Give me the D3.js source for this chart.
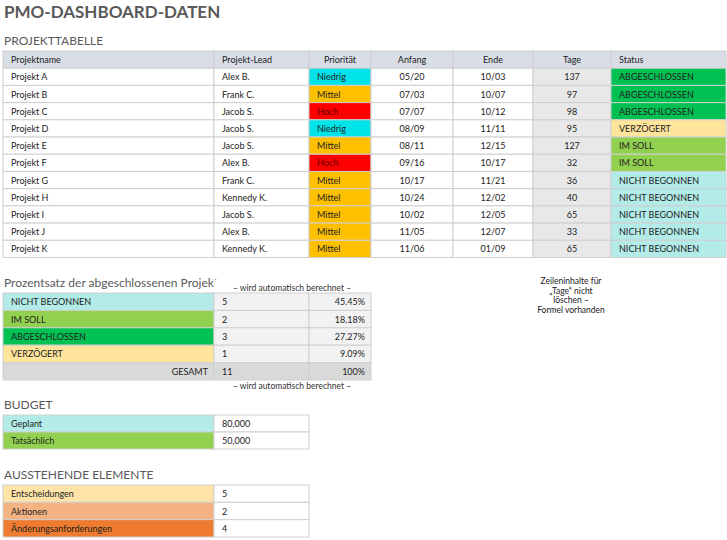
<!DOCTYPE html>
<html><head><meta charset="utf-8">
<script src="https://cdn.jsdelivr.net/npm/d3@7"></script>
<style>body{margin:0;background:#fff}svg{font-family:Lato,"Noto Sans",sans-serif}</style>
</head><body><div id="chart"></div>
<script>
const headers = ["Projektname","Projekt-Lead","Priorität","Anfang","Ende","Tage","Status"];
const projects = ["Projekt A","Projekt B","Projekt C","Projekt D","Projekt E","Projekt F","Projekt G","Projekt H","Projekt I","Projekt J","Projekt K"];
const leads = ["Alex B.","Frank C.","Jacob S.","Jacob S.","Jacob S.","Alex B.","Frank C.","Kennedy K.","Jacob S.","Alex B.","Kennedy K."];
const prio = ["Niedrig","Mittel","Hoch","Niedrig","Mittel","Hoch","Mittel","Mittel","Mittel","Mittel","Mittel"];
const start = ["05/20","07/03","07/07","08/09","08/11","09/16","10/17","10/24","10/02","11/05","11/06"];
const end = ["10/03","10/07","10/12","11/11","12/15","10/17","11/21","12/02","12/05","12/07","01/09"];
const days = [137,97,98,95,127,32,36,40,65,33,65];
const status = ["ABGESCHLOSSEN","ABGESCHLOSSEN","ABGESCHLOSSEN","VERZÖGERT","IM SOLL","IM SOLL","NICHT BEGONNEN","NICHT BEGONNEN","NICHT BEGONNEN","NICHT BEGONNEN","NICHT BEGONNEN"];
const pctLabels = ["NICHT BEGONNEN","IM SOLL","ABGESCHLOSSEN","VERZÖGERT"];
const pctCounts = [5,2,3,1];
const pctValues = ["45.45%","18.18%","27.27%","9.09%"];
const budgetLabels = ["Geplant","Tatsächlich"];
const budgetValues = ["80,000","50,000"];
const pendLabels = ["Entscheidungen","Aktionen","Änderungsanforderungen"];
const pendValues = [5,2,4];

const prioColor = {Niedrig:"#00e3e8",Mittel:"#ffc000",Hoch:"#ff0000"};
const statusColor = {"ABGESCHLOSSEN":"#00c152","VERZÖGERT":"#ffe59b","IM SOLL":"#92d050","NICHT BEGONNEN":"#b2ebe8"};
const pendColor = ["#ffe3a8","#f5b384","#ee7b30"];

const svg = d3.select("#chart").append("svg").attr("width",727).attr("height",540);
const colEdges = [3,214,309,371,453,533,611,726];
const line = "#cfcfcf";

function cell(x0,x1,y0,y1,fill,text,align,color){
  svg.append("rect").attr("x",x0).attr("y",y0).attr("width",x1-x0).attr("height",y1-y0)
    .attr("fill",fill).attr("stroke",line).attr("stroke-width",1);
  if(text===undefined) return;
  const tx = align==="middle"?(x0+x1)/2:align==="end"?x1-6:x0+8;
  svg.append("text").attr("x",tx).attr("y",(y0+y1)/2+3.5).attr("text-anchor",align||"start")
    .attr("font-size",9).attr("fill",color||"#222").text(text);
}
function title(y,t,size,weight,color){
  svg.append("text").attr("x",4).attr("y",y).attr("font-size",size).attr("font-weight",weight||"normal")
    .attr("fill",color||"#595959").text(t);
}

title(18,"PMO-DASHBOARD-DATEN",17,"bold");
title(45,"PROJEKTTABELLE",12);

const y = d3.scaleBand().domain(d3.range(12)).range([51,257.5]);
const aligns = ["start","start","middle","middle","middle","middle","start"];
headers.forEach((h,i)=>cell(colEdges[i],colEdges[i+1],y(0),y(0)+y.bandwidth(),"#d9dde6",h,i===0||i===1||i===6?"start":"middle"));
projects.forEach((p,r)=>{
  const y0=y(r+1), y1=y0+y.bandwidth();
  const vals=[p,leads[r],prio[r],start[r],end[r],days[r],status[r]];
  const fills=["#fff","#fff",prioColor[prio[r]],"#fff","#fff","#e8e8e8",statusColor[status[r]]];
  vals.forEach((v,i)=>cell(colEdges[i],colEdges[i+1],y0,y1,fills[i],v,i===2?"start":aligns[i],i===2&&prio[r]==="Hoch"?"#5a0000":"#222"));
});

title(287,"Prozentsatz der abgeschlossenen Projekte",12);
svg.append("rect").attr("x",214).attr("y",280).attr("width",200).attr("height",13).attr("fill","#fff");
svg.append("text").attr("x",292).attr("y",291).attr("text-anchor","middle").attr("font-size",8.5).attr("fill","#333").text("– wird automatisch berechnet –");
const y2 = d3.scaleBand().domain(d3.range(5)).range([293,380]);
pctLabels.forEach((l,r)=>{
  const y0=y2(r),y1=y0+y2.bandwidth();
  cell(3,214,y0,y1,statusColor[l],l);
  cell(214,309,y0,y1,"#f2f2f2",pctCounts[r]);
  cell(309,371,y0,y1,"#f2f2f2",pctValues[r],"end");
});
{
  const y0=y2(4),y1=y0+y2.bandwidth();
  cell(3,214,y0,y1,"#d9d9d9","GESAMT","end");
  cell(214,309,y0,y1,"#d9d9d9",d3.sum(pctCounts));
  cell(309,371,y0,y1,"#d9d9d9","100%","end");
}
svg.append("text").attr("x",292).attr("y",389).attr("text-anchor","middle").attr("font-size",8.5).attr("fill","#333").text("– wird automatisch berechnet –");

["Zeileninhalte für","„Tage“ nicht","löschen –","Formel vorhanden"].forEach((t,i)=>
  svg.append("text").attr("x",571).attr("y",284+i*9.5).attr("text-anchor","middle").attr("font-size",8.5).attr("fill","#222").text(t));

title(409,"BUDGET",12);
const y3 = d3.scaleBand().domain(d3.range(2)).range([415,449]);
budgetLabels.forEach((l,r)=>{
  const y0=y3(r),y1=y0+y3.bandwidth();
  cell(3,214,y0,y1,r===0?"#b2ebe8":"#92d050",l);
  cell(214,309,y0,y1,"#fff",budgetValues[r]);
});

title(479,"AUSSTEHENDE ELEMENTE",12);
const y4 = d3.scaleBand().domain(d3.range(3)).range([485,537]);
pendLabels.forEach((l,r)=>{
  const y0=y4(r),y1=y0+y4.bandwidth();
  cell(3,214,y0,y1,pendColor[r],l);
  cell(214,309,y0,y1,"#fff",pendValues[r]);
});
</script></body></html>
